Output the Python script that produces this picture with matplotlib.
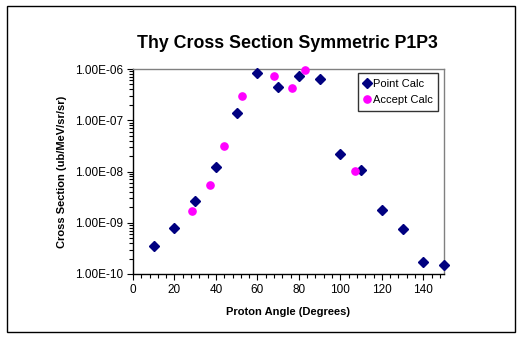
import math
import matplotlib.pyplot as plt
import matplotlib.ticker as ticker
from matplotlib.patches import Rectangle

plt.rcParams['font.family'] = ['Liberation Sans', 'DejaVu Sans']

# point calculation
point_angle = [10, 20, 30, 40, 50, 60, 70, 80, 90, 100, 110, 120, 130, 140, 150]
point_xsec = [3.56e-10, 8.0e-10, 2.7e-9, 1.22e-8, 1.38e-7, 8.2e-7, 4.45e-7, 7.3e-7,
              6.5e-7, 2.16e-8, 1.09e-8, 1.77e-9, 7.6e-10, 1.74e-10, 1.52e-10]

# acceptance-averaged calculation
accept_angle = [28.5, 37, 44, 52.7, 68, 76.5, 83.1, 106.9]
accept_xsec = [1.67e-9, 5.4e-9, 3.1e-8, 3.0e-7, 7.2e-7, 4.32e-7, 9.4e-7, 1.04e-8]

fig = plt.figure(figsize=(5.29, 3.38), dpi=100)
ax = fig.add_axes([133/529, 1-274/338, (444-133)/529, (274-69)/338])

ax.plot(point_angle, point_xsec, 'D', color='#000080', ms=4.6, mec='#000080',
        label='Point Calc', zorder=3, clip_on=False)
ax.plot(accept_angle, accept_xsec, 'o', color='#FF00FF', ms=5.2, mec='#FF00FF',
        label='Accept Calc', zorder=3, clip_on=False)

ax.set_yscale('log')
ax.set_ylim(1e-10, 1e-6)
ax.set_xlim(0, 150)
ax.xaxis.set_major_locator(ticker.MultipleLocator(20))
ax.xaxis.set_minor_locator(ticker.MultipleLocator(4))
ax.yaxis.set_major_locator(ticker.LogLocator(base=10, numticks=10))
ax.yaxis.set_minor_locator(ticker.LogLocator(base=10, subs=range(2, 10), numticks=10))
ax.yaxis.set_minor_formatter(ticker.NullFormatter())
ax.yaxis.set_major_formatter(ticker.FuncFormatter(
    lambda v, p: '1.00E-%02d' % round(-math.log10(v))))

ax.tick_params(which='both', direction='out', labelsize=8.5, width=0.8, colors='black')
ax.tick_params(which='major', length=4, pad=3)
ax.tick_params(which='minor', length=3)

for side in ['top', 'right']:
    ax.spines[side].set_color('#808080')
for side in ['left', 'bottom']:
    ax.spines[side].set_color('black')
for s in ax.spines.values():
    s.set_linewidth(1)

ax.set_xlabel('Proton Angle (Degrees)', fontsize=8, fontweight='bold', labelpad=8)
ax.set_ylabel('Cross Section (ub/MeV/sr/sr)', fontsize=8, fontweight='bold', labelpad=6)

fig.text(287.5/529, 1-43/338, 'Thy Cross Section Symmetric P1P3', fontsize=12.8,
         fontweight='bold', ha='center', va='center')

leg = ax.legend(loc='upper right', bbox_to_anchor=(438/529, 1-73/338),
                bbox_transform=fig.transFigure, fontsize=8, frameon=True,
                fancybox=False, edgecolor='black', handlelength=0.6,
                handletextpad=0.2, borderpad=0.5, labelspacing=0.6,
                borderaxespad=0)
leg.get_frame().set_linewidth(1)

fig.patches.append(Rectangle((6.5/529, 1-331.5/338), (515-6.5)/529, (331.5-6)/338,
                             transform=fig.transFigure, fill=False,
                             edgecolor='black', linewidth=1))

fig.savefig('out.png', dpi=100)
